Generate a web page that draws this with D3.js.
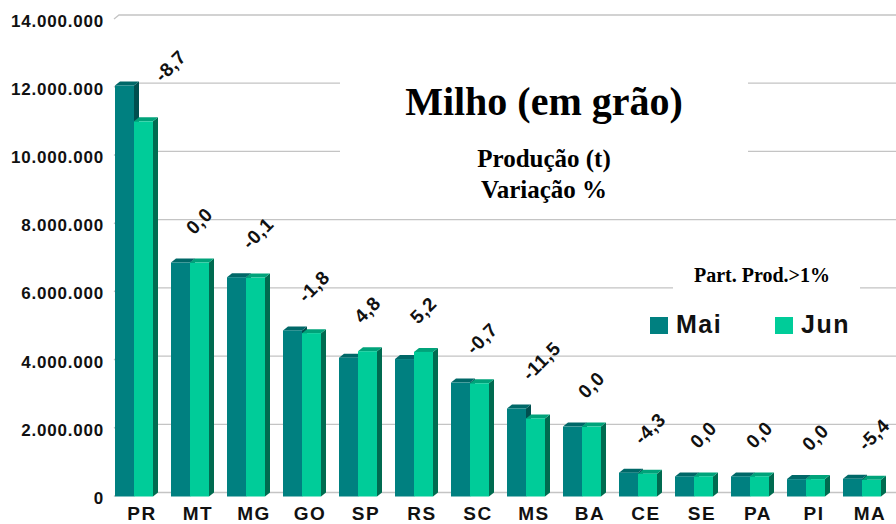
<!DOCTYPE html>
<html>
<head>
<meta charset="utf-8">
<script src="https://cdn.jsdelivr.net/npm/d3@7"></script>
<style>
  html, body { margin: 0; padding: 0; background: #fff; }
  svg { display: block; }
</style>
</head>
<body>
<div id="chart"></div>
<script>
const estados = ['PR', 'MT', 'MG', 'GO', 'SP', 'RS', 'SC', 'MS', 'BA', 'CE', 'SE', 'PA', 'PI', 'MA'];
const mai = [12050000, 6860000, 6430000, 4870000, 4070000, 4030000, 3340000, 2580000, 2050000, 700000, 590000, 590000, 510000, 520000];
const jun = [11000000, 6860000, 6420000, 4790000, 4260000, 4240000, 3320000, 2290000, 2050000, 670000, 590000, 590000, 510000, 490000];
const variacao = ['-8,7', '0,0', '-0,1', '-1,8', '4,8', '5,2', '-0,7', '-11,5', '0,0', '-4,3', '0,0', '0,0', '0,0', '-5,4'];
const series = ['Mai', 'Jun'];
const yTicks = [0, 2000000, 4000000, 6000000, 8000000, 10000000, 12000000, 14000000];

const width = 896, height = 524;
const depthX = 5, depthY = 4;

const colors = {
  Mai: { front: '#008080', top: '#006868', side: '#004f4f' },
  Jun: { front: '#00cc99', top: '#00a37a', side: '#006b50' }
};

const sans = 'Arial, "Liberation Sans", sans-serif';
const serif = '"Times New Roman", "Liberation Serif", serif';

const svg = d3.select('#chart').append('svg')
  .attr('width', width)
  .attr('height', height);

const y = d3.scaleLinear().domain([0, 14000000]).range([496.5, 19]);
const x = d3.scaleBand().domain(estados).range([106, 890])
  .paddingInner(18 / 56).paddingOuter(9 / 56);
const xs = d3.scaleBand().domain(series).range([0, x.bandwidth()]);

const fmt = v => d3.format(',')(v).replace(/,/g, '.');

// grid lines on the back wall
const grid = svg.append('g')
  .attr('fill', 'none')
  .attr('stroke', '#c4c4c4')
  .attr('stroke-width', 1.3);
grid.selectAll('path')
  .data(yTicks)
  .join('path')
  .attr('d', d => `M${x.range()[0] + 8},${y(d)} L${x.range()[0] + 8 + depthX},${y(d) - depthY} L${width},${y(d) - depthY}`);

// white boxes behind title and legend caption
svg.append('rect').attr('x', 340).attr('y', 58).attr('width', 408).attr('height', 152).attr('fill', '#fff');
svg.append('rect').attr('x', 673).attr('y', 262).attr('width', 187).attr('height', 32).attr('fill', '#fff');

// y axis labels
svg.append('g')
  .selectAll('text')
  .data(yTicks)
  .join('text')
  .attr('x', 104)
  .attr('y', d => y(d) + 2)
  .attr('text-anchor', 'end')
  .attr('dominant-baseline', 'central')
  .attr('font-family', sans)
  .attr('font-weight', 'bold')
  .attr('font-size', 17)
  .attr('letter-spacing', 0.8)
  .attr('fill', '#111')
  .text(d => fmt(d));

// 3D bars
const rows = estados.map((e, i) => ({ estado: e, Mai: mai[i], Jun: jun[i], varia: variacao[i] }));
const base = y(0);
const bw = xs.bandwidth();

const groups = svg.append('g')
  .selectAll('g')
  .data(rows)
  .join('g')
  .attr('transform', d => `translate(${x(d.estado)},0)`);

series.forEach(s => {
  const bar = groups.append('g');
  const x0 = xs(s);
  bar.append('path')
    .attr('fill', colors[s].side)
    .attr('d', d => {
      const t = y(d[s]);
      return `M${x0 + bw},${t} L${x0 + bw + depthX},${t - depthY} L${x0 + bw + depthX},${base - depthY} L${x0 + bw},${base} Z`;
    });
  bar.append('path')
    .attr('fill', colors[s].top)
    .attr('d', d => {
      const t = y(d[s]);
      return `M${x0},${t} L${x0 + depthX},${t - depthY} L${x0 + bw + depthX},${t - depthY} L${x0 + bw},${t} Z`;
    });
  bar.append('rect')
    .attr('x', x0)
    .attr('y', d => y(d[s]))
    .attr('width', bw)
    .attr('height', d => base - y(d[s]))
    .attr('fill', colors[s].front);
});

// category labels
svg.append('g')
  .selectAll('text')
  .data(estados)
  .join('text')
  .attr('x', d => x(d) + x.bandwidth() / 2 + 8)
  .attr('y', 520)
  .attr('text-anchor', 'middle')
  .attr('font-family', sans)
  .attr('font-weight', 'bold')
  .attr('font-size', 19)
  .attr('letter-spacing', 1.5)
  .attr('fill', '#111')
  .text(d => d);

// variation labels, rotated; slid down the diagonal when too close to the top
const labelTop = 83;
svg.append('g')
  .selectAll('text')
  .data(rows)
  .join('text')
  .attr('transform', d => {
    let oy = y(Math.max(d.Mai, d.Jun)) - 27;
    const shift = Math.max(0, labelTop - oy);
    const ox = x(d.estado) + 23 + shift;
    oy += shift;
    return `translate(${ox},${oy}) rotate(-45)`;
  })
  .attr('text-anchor', 'start')
  .attr('font-family', sans)
  .attr('font-weight', 'bold')
  .attr('font-size', 19)
  .attr('letter-spacing', 0.6)
  .attr('fill', '#111')
  .text(d => d.varia);

// titles
svg.append('text')
  .attr('x', 544).attr('y', 115)
  .attr('text-anchor', 'middle')
  .attr('font-family', serif).attr('font-weight', 'bold').attr('font-size', 40)
  .text('Milho (em grão)');
svg.append('text')
  .attr('x', 544).attr('y', 167)
  .attr('text-anchor', 'middle')
  .attr('font-family', serif).attr('font-weight', 'bold').attr('font-size', 25)
  .text('Produção (t)');
svg.append('text')
  .attr('x', 544).attr('y', 198)
  .attr('text-anchor', 'middle')
  .attr('font-family', serif).attr('font-weight', 'bold').attr('font-size', 25)
  .text('Variação %');
svg.append('text')
  .attr('x', 762).attr('y', 282)
  .attr('text-anchor', 'middle')
  .attr('font-family', serif).attr('font-weight', 'bold').attr('font-size', 20)
  .text('Part. Prod.>1%');

// legend
const legendX = d3.scalePoint().domain(series).range([650, 775]);
const legend = svg.append('g')
  .selectAll('g')
  .data(series)
  .join('g')
  .attr('transform', d => `translate(${legendX(d)},317)`);
legend.append('rect')
  .attr('width', 18).attr('height', 17)
  .attr('fill', d => colors[d].front);
legend.append('text')
  .attr('x', 26).attr('y', 16)
  .attr('font-family', sans)
  .attr('font-weight', 'bold')
  .attr('font-size', 25)
  .attr('letter-spacing', 1.5)
  .attr('fill', '#111')
  .text(d => d);
</script>
</body>
</html>
